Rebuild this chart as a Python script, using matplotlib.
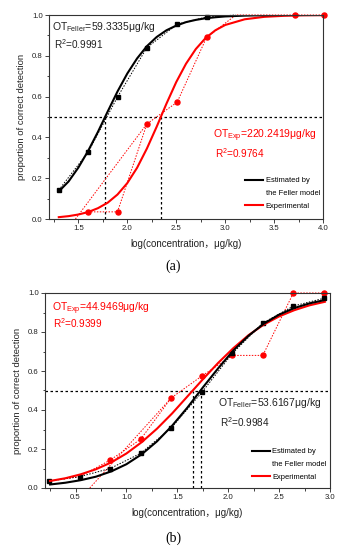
import matplotlib
matplotlib.use("Agg")
import matplotlib.pyplot as plt
from matplotlib.lines import Line2D
from matplotlib.ticker import MultipleLocator

plt.rcParams['font.family'] = ['Liberation Sans', 'Noto Sans CJK SC', 'DejaVu Sans']
plt.rcParams['mathtext.default'] = 'regular'

# ---- panel (a) data ----
a_black_x = [1.30, 1.60, 1.90, 2.20, 2.51, 2.81, 3.11]
a_black_y = [0.142, 0.328, 0.598, 0.840, 0.955, 0.990, 1.0]
a_black_marked = [0, 1, 2, 3, 4, 5]
a_red_x = [1.60, 1.90, 2.20, 2.51, 2.81, 3.11, 3.41, 3.71, 4.01]
a_red_y = [0.035, 0.035, 0.466, 0.573, 0.890, 1.0, 1.0, 1.0, 1.0]
a_red_marked = [0, 1, 2, 3, 4, 7, 8]
a_red_guide_x = [1.47, 2.20]
a_red_guide_y = [0.0, 0.466]
a_fit_x = [1.3, 1.4, 1.5, 1.6, 1.7, 1.8, 1.9, 2.0, 2.1, 2.2, 2.3, 2.4, 2.5,
           2.6, 2.7, 2.8, 2.9, 3.0, 3.2, 3.4, 3.6, 3.8, 4.0]
a_fit_black = [0.135, 0.184, 0.252, 0.334, 0.427, 0.527, 0.625, 0.713, 0.787,
               0.847, 0.892, 0.925, 0.948, 0.965, 0.976, 0.984, 0.989, 0.993,
               0.997, 0.999, 1.0, 1.0, 1.0]
a_fit_red = [0.009, 0.014, 0.022, 0.034, 0.053, 0.080, 0.120, 0.176, 0.251,
             0.345, 0.452, 0.565, 0.671, 0.761, 0.833, 0.887, 0.925, 0.951,
             0.979, 0.991, 0.996, 0.9986, 0.9994]
a_ot_black = 1.773   # log10(59.3335)
a_ot_red = 2.343     # log10(220.2419)

# ---- panel (b) data ----
b_black_x = [0.24, 0.54, 0.84, 1.14, 1.44, 1.74, 2.04, 2.34, 2.64, 2.94]
b_black_y = [0.036, 0.058, 0.100, 0.178, 0.308, 0.490, 0.690, 0.846, 0.933, 0.973]
b_black_marked = list(range(10))
b_red_x = [0.24, 0.54, 0.84, 1.14, 1.44, 1.74, 2.04, 2.34, 2.64, 2.94]
b_red_y = [0.036, 0.058, 0.143, 0.250, 0.462, 0.574, 0.680, 0.680, 1.0, 1.0]
b_red_marked = [2, 3, 4, 5, 6, 7, 8, 9]
b_red_guide_x = [0.64, 1.44]
b_red_guide_y = [0.0, 0.462]
b_fit_x = [0.25, 0.40, 0.55, 0.70, 0.85, 1.00, 1.15, 1.30, 1.45, 1.60, 1.75,
           1.90, 2.05, 2.20, 2.35, 2.50, 2.65, 2.80, 2.95]
b_fit_black = [0.018, 0.027, 0.040, 0.058, 0.085, 0.122, 0.173, 0.239, 0.320,
               0.413, 0.515, 0.613, 0.705, 0.781, 0.843, 0.889, 0.923, 0.947, 0.964]
b_fit_red = [0.036, 0.050, 0.070, 0.096, 0.131, 0.177, 0.235, 0.304, 0.383,
             0.470, 0.557, 0.641, 0.717, 0.784, 0.838, 0.880, 0.912, 0.937, 0.955]
b_ot_black = 1.729   # log10(53.6167)
b_ot_red = 1.653     # log10(44.9469)

xlabel = 'log(concentration，μg/kg)'
ylabel = 'proportion of correct detection'
legend_labels = ['Estimated by', 'the Feller model', 'Experimental']

RED = '#ff0000'


def style_axes(ax, xlim, xmajor):
    ax.set_xlim(xlim)
    ax.set_ylim(0, 1.0)
    ax.xaxis.set_major_locator(MultipleLocator(xmajor))
    ax.xaxis.set_minor_locator(MultipleLocator(xmajor / 2))
    ax.yaxis.set_major_locator(MultipleLocator(0.2))
    ax.yaxis.set_minor_locator(MultipleLocator(0.1))
    ax.xaxis.set_major_formatter(lambda v, p: '%.1f' % v)
    ax.yaxis.set_major_formatter(lambda v, p: '%.1f' % v)
    ax.tick_params(which='major', direction='out', length=2.6, width=0.6,
                   labelsize=5.6, pad=2, colors='#222222')
    ax.tick_params(which='minor', direction='out', length=1.8, width=0.6,
                   colors='#222222')
    for s in ax.spines.values():
        s.set_linewidth(0.8)
        s.set_color('#333333')
    ax.set_xlabel(xlabel, fontsize=7, labelpad=5, color='#222222')
    ax.set_ylabel(ylabel, fontsize=6.8, labelpad=4, color='#222222')


def draw_panel(ax, bx, by, bm, rx, ry, rm, gx, gy, fx, fb, fr, ot_b, ot_r):
    x0, x1 = ax.get_xlim()
    ax.plot([x0, x1], [0.5, 0.5], color='k', ls=(0, (2, 2)), lw=0.9)
    ax.plot([ot_b, ot_b], [0, 0.5], color='k', ls=(0, (2, 2)), lw=0.9)
    ax.plot([ot_r, ot_r], [0, 0.5], color='k', ls=(0, (2, 2)), lw=0.9)
    ax.plot(gx, gy, color=RED, ls=(0, (1.5, 1.5)), lw=0.7)
    ax.plot(rx, ry, color=RED, ls=(0, (1.5, 1.5)), lw=0.7, marker='o',
            markersize=3.6, markevery=rm, clip_on=False)
    ax.plot(bx, by, color='k', ls=(0, (1.5, 1.5)), lw=0.7, marker='s',
            markersize=3.4, markevery=bm, clip_on=False)
    ax.plot(fx, fr, color=RED, lw=1.5)
    ax.plot(fx, fb, color='k', lw=1.5)


def add_legend(ax, anchor):
    handles = [Line2D([], [], color='k', lw=1.5),
               Line2D([], [], color='none', lw=1.5),
               Line2D([], [], color=RED, lw=1.5)]
    ax.legend(handles, legend_labels, loc='lower right', bbox_to_anchor=anchor,
              frameon=False, fontsize=5.4, handlelength=2.3, handletextpad=0.4,
              labelspacing=0.75, borderaxespad=0)


fig = plt.figure(figsize=(3.41, 5.5), dpi=100)

# panel (a)
ax1 = fig.add_axes([49 / 341, 1 - 219 / 550, 274 / 341, 204 / 550])
style_axes(ax1, (1.2, 4.0), 0.5)
draw_panel(ax1, a_black_x, a_black_y, a_black_marked, a_red_x, a_red_y,
           a_red_marked, a_red_guide_x, a_red_guide_y, a_fit_x, a_fit_black,
           a_fit_red, a_ot_black, a_ot_red)
ax1.text(0.012, 0.94, 'OT$_{Feller}$=59.3335μg/kg', transform=ax1.transAxes,
         fontsize=7.5, ha='left', va='center', color='#222222')
ax1.text(0.02, 0.855, 'R$^2$=0.9991', transform=ax1.transAxes,
         fontsize=7.2, ha='left', va='center', color='#222222')
ax1.text(0.598, 0.41, 'OT$_{Exp}$=220.2419μg/kg', transform=ax1.transAxes,
         fontsize=7.5, ha='left', va='center', color=RED)
ax1.text(0.605, 0.325, 'R$^2$=0.9764', transform=ax1.transAxes,
         fontsize=7.2, ha='left', va='center', color=RED)
add_legend(ax1, (1.0, 0.03))

# panel (b)
ax2 = fig.add_axes([45 / 341, 1 - 488 / 550, 285 / 341, 195 / 550])
style_axes(ax2, (0.2, 3.0), 0.5)
draw_panel(ax2, b_black_x, b_black_y, b_black_marked, b_red_x, b_red_y,
           b_red_marked, b_red_guide_x, b_red_guide_y, b_fit_x, b_fit_black,
           b_fit_red, b_ot_black, b_ot_red)
ax2.text(0.025, 0.92, 'OT$_{Exp}$=44.9469μg/kg', transform=ax2.transAxes,
         fontsize=7.5, ha='left', va='center', color=RED)
ax2.text(0.027, 0.845, 'R$^2$=0.9399', transform=ax2.transAxes,
         fontsize=7.2, ha='left', va='center', color=RED)
ax2.text(0.606, 0.435, 'OT$_{Feller}$=53.6167μg/kg', transform=ax2.transAxes,
         fontsize=7.5, ha='left', va='center', color='#222222')
ax2.text(0.613, 0.34, 'R$^2$=0.9984', transform=ax2.transAxes,
         fontsize=7.2, ha='left', va='center', color='#222222')
add_legend(ax2, (1.0, 0.02))

fig.text(173 / 341, 1 - 266 / 550, '(a)', family='Liberation Serif',
         fontsize=10, ha='center', va='center')
fig.text(173 / 341, 1 - 538 / 550, '(b)', family='Liberation Serif',
         fontsize=10, ha='center', va='center')

fig.savefig('out.png', dpi=100)
